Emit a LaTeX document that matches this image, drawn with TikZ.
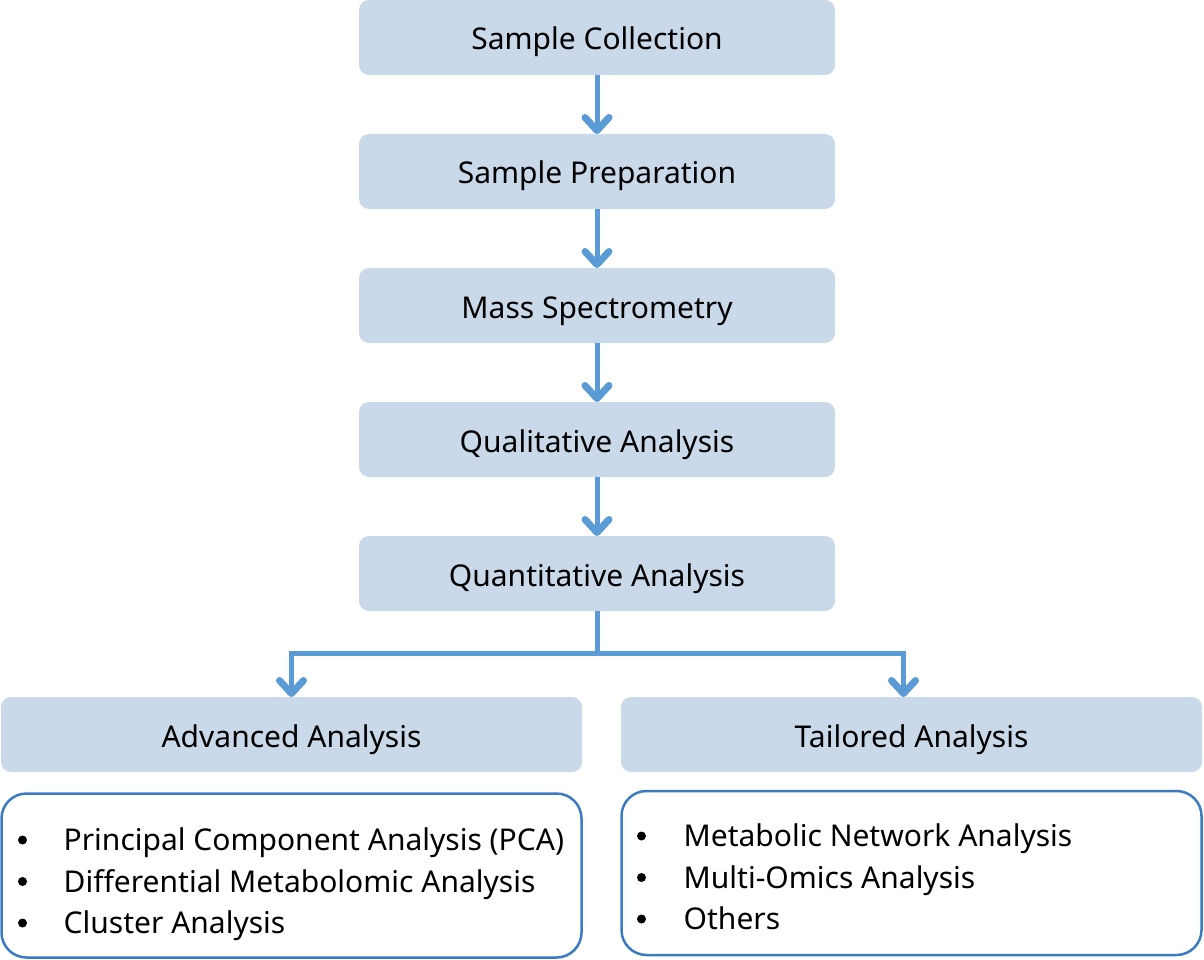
\documentclass[tikz,border=0pt]{standalone}
\usepackage{fontspec}
\setmainfont{Noto Sans}
\usetikzlibrary{positioning,calc,arrows.meta}
\definecolor{stepfill}{HTML}{CAD9EA}
\definecolor{flowblue}{HTML}{5B9BD5}
\definecolor{listline}{HTML}{3A7BC2}

\begin{document}
\begin{tikzpicture}[x=1pt, y=-1pt,
    stage/.style={fill=stepfill, rounded corners=10pt, minimum width=476pt, minimum height=75pt,
      outer sep=0pt, font=\fontsize{30}{35}\selectfont, text height=26pt, text depth=1pt},
    result/.style={stage, minimum width=581pt},
    listbox/.style={draw=listline, line width=2.5pt, fill=white, rounded corners=25pt,
      minimum width=580pt, minimum height=164pt, outer sep=0pt},
    flow/.style={draw=flowblue, line width=5pt,
      -{Straight Barb[length=13pt, width=24pt, line width'=7pt, round]}},
    item/.style={anchor=west, inner sep=0pt, font=\fontsize{30}{35}\selectfont, text height=26pt, text depth=1pt},
    bul/.style={inner sep=0pt, circle, fill=black, minimum size=9pt}
  ]
\useasboundingbox (0,0) rectangle (1204,960);

% Main chain of steps
\node[stage] (collect) at (597,37.5) {Sample Collection};
\node[stage, below=59pt of collect] (prep) {Sample Preparation};
\node[stage, below=59pt of prep] (mass) {Mass Spectrometry};
\node[stage, below=59pt of mass] (qual) {Qualitative Analysis};
\node[stage, below=59pt of qual] (quant) {Quantitative Analysis};

\draw[flow] (collect) -- (prep);
\draw[flow] (prep) -- (mass);
\draw[flow] (mass) -- (qual);
\draw[flow] (qual) -- (quant);

% The two kinds of analysis
\node[result] (adv) at (291.5,734.5) {Advanced Analysis};
\node[result] (tail) at (911.5,734.5) {Tailored Analysis};

\coordinate (split) at ($(quant.south)+(0,42)$);
\draw[flow] (quant.south) -- (split) -| (adv.north);
\draw[flow] (split) -| ($(tail.north)+(-8,0)$);

% Lists below them
\node[listbox] (advlist) at (291.5,875.5) {};
\node[listbox] (taillist) at (911.5,873) {};

\foreach \txt [count=\i] in {Principal Component Analysis (PCA), Differential Metabolomic Analysis, Cluster Analysis} {
    \node[bul] (advbul-\i) at ($(advlist.north west)+(21,5+41.5*\i)$) {};
    \node[item] (advitem-\i) at ($(advlist.north west)+(62,3+41.5*\i)$) {\txt};
}
\foreach \txt [count=\i] in {Metabolic Network Analysis, Multi-Omics Analysis, Others} {
    \node[bul] (tailbul-\i) at ($(taillist.north west)+(20,3.5+41.5*\i)$) {};
    \node[item] (tailitem-\i) at ($(taillist.north west)+(62,1.5+41.5*\i)$) {\txt};
}

\end{tikzpicture}
\end{document}
